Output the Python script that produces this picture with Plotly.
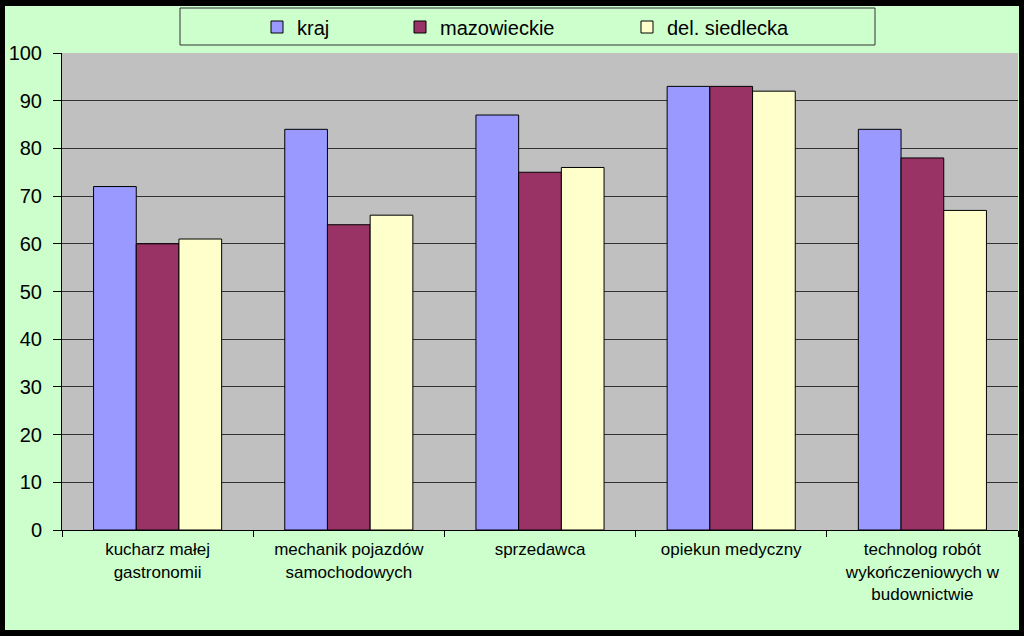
import plotly.graph_objects as go

categories = ["kucharz małej<br>gastronomii", "mechanik pojazdów<br>samochodowych",
              "sprzedawca", "opiekun medyczny",
              "technolog robót<br>wykończeniowych w<br>budownictwie"]
kraj = [72, 84, 87, 93, 84]
mazowieckie = [60, 64, 75, 93, 78]
siedlecka = [61, 66, 76, 92, 67]
series_names = ["kraj", "mazowieckie", "del. siedlecka"]
series_colors = ["#9999FF", "#993366", "#FFFFCC"]

W, H = 1024, 636
L, R, T, B = 62, 1018, 53, 530

def fx(x):
    return (x - L) / (R - L)

def fy(y):
    return (B - y) / (B - T)

FONT = "Liberation Sans, Arial, sans-serif"

fig = go.Figure()
for i, (name, vals, col) in enumerate(zip(series_names, [kraj, mazowieckie, siedlecka], series_colors)):
    fig.add_trace(go.Bar(
        x=categories, y=vals, name=name,
        marker=dict(color=col, line=dict(color="black", width=1)),
        legend="legend" if i == 0 else f"legend{i+1}",
    ))

leg_common = dict(orientation="h", xanchor="left", yanchor="middle",
                  bgcolor="rgba(0,0,0,0)", borderwidth=0,
                  font=dict(family=FONT, size=20, color="black"))
legend_px = [257, 400, 627]
legends = {}
for i, lx in enumerate(legend_px):
    key = "legend" if i == 0 else f"legend{i+1}"
    legends[key] = dict(x=fx(lx), y=fy(27), **leg_common)

shapes = [
    # legend box
    dict(type="rect", xref="paper", yref="paper", x0=fx(180), x1=fx(875), y0=fy(45), y1=fy(8),
         line=dict(color="#333333", width=1), fillcolor="rgba(0,0,0,0)", layer="below"),
    # black outer frame
    dict(type="rect", xref="paper", yref="paper", x0=fx(0), x1=fx(5), y0=fy(H), y1=fy(0),
         line=dict(width=0), fillcolor="black", layer="above"),
    dict(type="rect", xref="paper", yref="paper", x0=fx(1019), x1=fx(W), y0=fy(H), y1=fy(0),
         line=dict(width=0), fillcolor="black", layer="above"),
    dict(type="rect", xref="paper", yref="paper", x0=fx(0), x1=fx(W), y0=fy(6), y1=fy(0),
         line=dict(width=0), fillcolor="black", layer="above"),
    dict(type="rect", xref="paper", yref="paper", x0=fx(0), x1=fx(W), y0=fy(H), y1=fy(630),
         line=dict(width=0), fillcolor="black", layer="above"),
]

fig.update_layout(
    width=W, height=H,
    margin=dict(l=L, r=W - R, t=T, b=H - B, pad=0),
    paper_bgcolor="#CCFFCC", plot_bgcolor="#C0C0C0",
    barmode="group", bargap=0.33, bargroupgap=0,
    font=dict(family=FONT, color="black"),
    shapes=shapes,
    showlegend=True,
    **legends,
)
fig.update_xaxes(
    type="category", tickson="boundaries", ticks="outside", ticklen=6, tickcolor="black",
    showline=True, linecolor="black", linewidth=1, showgrid=False,
    tickfont=dict(family=FONT, size=17, color="black"), ticklabelstandoff=4,
)
fig.update_yaxes(
    range=[0, 100], dtick=10, ticks="outside", ticklen=8, tickcolor="black",
    showline=True, linecolor="black", linewidth=1,
    showgrid=True, gridcolor="#333333", gridwidth=1, zeroline=False,
    tickfont=dict(family=FONT, size=20, color="black"), ticklabelstandoff=7,
)

fig.write_html("out.html", config={"displayModeBar": False},
               post_script="document.body.style.margin='0';document.body.style.overflow='hidden';")
